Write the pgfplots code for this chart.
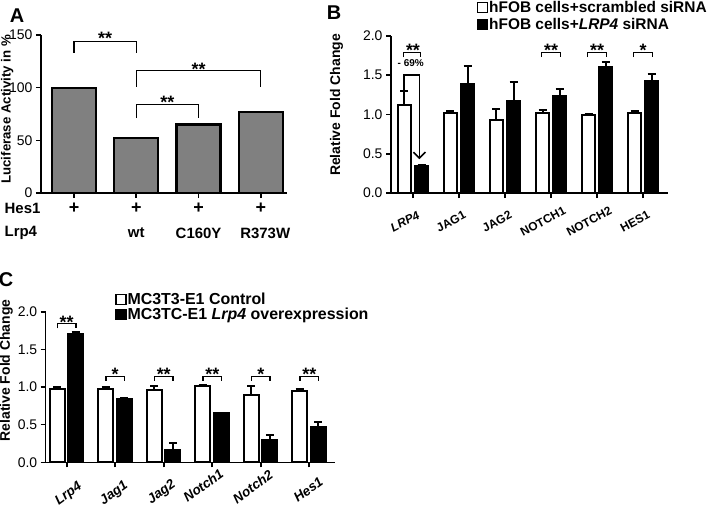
\documentclass[border=0pt]{standalone}
\usepackage{fontspec}
\setmainfont{Liberation Sans}
\usepackage{pgfplots}
\pgfplotsset{compat=1.18}
\usetikzlibrary{arrows.meta}
\newcommand\fs[1]{\fontsize{#1}{#1}\selectfont}
\definecolor{bargray}{RGB}{128,128,128}
\tikzset{
  blab/.style={font=\bfseries\fs{12}, xshift=-8bp, yshift=-28.5bp, rotate=28, anchor=center, inner sep=0pt},
  clab/.style={font=\bfseries\itshape\fs{13.5}, anchor=center, inner sep=0pt},
}
\pgfplotsset{
  prism/.style={
    scale only axis,
    axis x line*=bottom, axis y line*=left,
    axis line style={line width=1.6bp, -},
    every tick/.style={line width=1.6bp, black},
    major tick length=5bp,
    tick align=outside,
    clip=false,
    ymin=0,
    tick label style={font=\fs{14}},
    /pgf/number format/assume math mode=true,
  },
  errb/.style={error bars/.cd, y dir=plus, y explicit,
    error bar style={line width=2bp, black},
    error mark options={black, line width=2bp, mark size=4bp, rotate=90}},
  brk/.style={black, line width=1.3bp, forget plot, sharp plot},
  sq/.style={legend image code/.code={\draw[##1,/tikz/.cd,line width=1.5bp] (0bp,-5bp) rectangle (10bp,5bp);}},
}
\begin{document}
\begin{tikzpicture}
\useasboundingbox (0,0) rectangle (708bp,-506bp);
\node[font=\bfseries\fs{20}] at (17bp,-16bp) {A};
\node[font=\bfseries\fs{20}] at (334bp,-13bp) {B};
\node[font=\bfseries\fs{20}] at (6bp,-280bp) {C};

% ---------------- Panel A
\begin{axis}[prism,
  at={(41bp,-193bp)}, anchor=south west,
  width=246bp, height=158bp,
  xmin=-0.53, xmax=3.42, ymax=150,
  ytick={0,50,100,150},
  xtick={0,1,2,3}, xticklabels={,,,},
  ylabel={Luciferase Activity in \%},
  every axis y label/.style={at={(axis description cs:-0.137,0.53)}, rotate=90, anchor=center, inner sep=0pt, font=\bfseries\fs{13.3}},
]
\addplot[ybar, bar width=44bp, fill=bargray, draw=black, line width=2.2bp] coordinates {(0,100) (1,52) (2,65) (3,77)};
\addplot[brk] coordinates {(0,133) (0,144) (1,144) (1,133)};
\addplot[brk] coordinates {(1,101) (1,116) (3,116) (3,101)};
\addplot[brk] coordinates {(1,71) (1,84) (2,84) (2,71)};
\node[font=\bfseries\fs{18}, anchor=base] at (axis cs:0.5,141) {**};
\node[font=\bfseries\fs{18}, anchor=base] at (axis cs:2,112) {**};
\node[font=\bfseries\fs{18}, anchor=base] at (axis cs:1.5,80) {**};
\node[font=\bfseries\fs{18}] at (axis cs:0,-14.2) {+};
\node[font=\bfseries\fs{18}] at (axis cs:1,-14.2) {+};
\node[font=\bfseries\fs{18}] at (axis cs:2,-14.2) {+};
\node[font=\bfseries\fs{18}] at (axis cs:3,-14.2) {+};
\node[font=\bfseries\fs{15}, anchor=west] at (axis cs:-1.17,-14.2) {Hes1};
\node[font=\bfseries\fs{15}, anchor=west] at (axis cs:-1.17,-38) {Lrp4};
\node[font=\bfseries\fs{15}] at (axis cs:1,-38) {wt};
\node[font=\bfseries\fs{15}] at (axis cs:2,-38) {C160Y};
\node[font=\bfseries\fs{15}] at (axis cs:3.07,-38) {R373W};
\end{axis}

% ---------------- Panel B
\begin{axis}[prism, sq,
  at={(391bp,-193bp)}, anchor=south west,
  width=277bp, height=157bp,
  xmin=-0.478, xmax=5.543, ymax=2,
  ytick={0,0.5,1,1.5,2},
  yticklabel style={/pgf/number format/.cd, fixed, fixed zerofill, precision=1},
  xtick={0,1,2,3,4,5}, xticklabels={,,,,,},
  ylabel={Relative Fold Change},
  every axis y label/.style={at={(axis description cs:-0.197,0.56)}, rotate=90, anchor=center, font=\bfseries\fs{14}},
  legend style={at={(axis description cs:1.144,1.229)}, anchor=north east, draw=none, fill=none,
    font=\bfseries\fs{15.5}, inner sep=0pt, row sep=2bp,
    nodes={inner sep=1bp}, cells={anchor=west}},
]
\addplot[ybar, bar width=13bp, bar shift=0pt, fill=white, draw=black, line width=2bp, errb]
  coordinates {(-0.185,1.12) +- (0,0.18) (0.815,1.02) +- (0,0.02) (1.815,0.93) +- (0,0.14) (2.815,1.02) +- (0,0.04) (3.815,1.00) +- (0,0.01) (4.815,1.02) +- (0,0.03)};
\addplot[ybar, bar width=13bp, bar shift=0pt, fill=black, draw=black, line width=2bp, errb]
  coordinates {(0.185,0.35) +- (0,0.01) (1.185,1.39) +- (0,0.23) (2.185,1.17) +- (0,0.24) (3.185,1.24) +- (0,0.09) (4.185,1.61) +- (0,0.06) (5.185,1.43) +- (0,0.09)};
\legend{hFOB cells+scrambled siRNA, hFOB cells+\textit{LRP4} siRNA}
\addplot[brk] coordinates {(-0.2,1.73) (-0.2,1.79) (0.17,1.79) (0.17,1.73)};
\addplot[brk] coordinates {(2.8,1.73) (2.8,1.79) (3.2,1.79) (3.2,1.73)};
\addplot[brk] coordinates {(3.8,1.73) (3.8,1.79) (4.2,1.79) (4.2,1.73)};
\addplot[brk] coordinates {(4.8,1.73) (4.8,1.79) (5.2,1.79) (5.2,1.73)};
\addplot[black, line width=1.6bp, forget plot, sharp plot, -{Straight Barb[length=6bp,width=12bp]}]
  coordinates {(-0.2,1.30) (-0.2,1.50) (0.14,1.50) (0.14,0.43)};
\node[font=\bfseries\fs{18}, anchor=base] at (axis cs:0,1.74) {**};
\node[font=\bfseries\fs{18}, anchor=base] at (axis cs:3,1.74) {**};
\node[font=\bfseries\fs{18}, anchor=base] at (axis cs:4,1.74) {**};
\node[font=\bfseries\fs{18}, anchor=base] at (axis cs:5,1.74) {*};
\node[font=\bfseries\fs{10}] at (axis cs:-0.05,1.656) {- 69\%};
\node[blab] at (axis cs:0,0) {\textit{LRP4}};
\node[blab] at (axis cs:1,0) {JAG1};
\node[blab] at (axis cs:2,0) {JAG2};
\node[blab] at (axis cs:3,0) {NOTCH1};
\node[blab] at (axis cs:4,0) {NOTCH2};
\node[blab] at (axis cs:5,0) {HES1};
\end{axis}

% ---------------- Panel C
\begin{axis}[prism, sq,
  at={(45.7bp,-462.3bp)}, anchor=south west,
  width=289.3bp, height=150.6bp,
  xmin=-0.433, xmax=5.53, ymax=2,
  ytick={0,0.5,1,1.5,2},
  yticklabel style={/pgf/number format/.cd, fixed, fixed zerofill, precision=1},
  xtick={0,1,2,3,4,5}, xticklabels={,,,,,},
  ylabel={Relative Fold Change},
  every axis y label/.style={at={(axis description cs:-0.136,0.61)}, rotate=90, anchor=center, font=\bfseries\fs{14}},
  legend style={at={(axis description cs:0.239,1.131)}, anchor=north west, draw=none, fill=none,
    font=\bfseries\fs{16}, inner sep=0pt, row sep=0bp,
    nodes={inner sep=1bp}, cells={anchor=west}},
]
\addplot[ybar, bar width=15bp, bar shift=0pt, fill=white, draw=black, line width=2bp, errb]
  coordinates {(-0.2,0.98) +- (0,0.02) (0.8,0.98) +- (0,0.02) (1.8,0.96) +- (0,0.05) (2.8,1.02) +- (0,0.01) (3.8,0.89) +- (0,0.12) (4.8,0.95) +- (0,0.03)};
\addplot[ybar, bar width=15bp, bar shift=0pt, fill=black, draw=black, line width=2bp, errb]
  coordinates {(0.186,1.70) +- (0,0.03) (1.186,0.84) +- (0,0.02) (2.186,0.17) +- (0,0.08) (3.186,0.65) +- (0,0.01) (4.186,0.30) +- (0,0.06) (5.186,0.47) +- (0,0.06)};
\legend{MC3T3-E1 Control, MC3TC-E1 \textit{Lrp4} overexpression}
\addplot[brk] coordinates {(-0.19,1.78) (-0.19,1.84) (0.19,1.84) (0.19,1.78)};
\addplot[brk] coordinates {(0.81,1.08) (0.81,1.14) (1.19,1.14) (1.19,1.08)};
\addplot[brk] coordinates {(1.81,1.08) (1.81,1.14) (2.19,1.14) (2.19,1.08)};
\addplot[brk] coordinates {(2.81,1.08) (2.81,1.14) (3.19,1.14) (3.19,1.08)};
\addplot[brk] coordinates {(3.81,1.08) (3.81,1.14) (4.19,1.14) (4.19,1.08)};
\addplot[brk] coordinates {(4.81,1.08) (4.81,1.14) (5.19,1.14) (5.19,1.08)};
\node[font=\bfseries\fs{18}, anchor=base] at (axis cs:0,1.78) {**};
\node[font=\bfseries\fs{18}, anchor=base] at (axis cs:1,1.08) {*};
\node[font=\bfseries\fs{18}, anchor=base] at (axis cs:2,1.08) {**};
\node[font=\bfseries\fs{18}, anchor=base] at (axis cs:3,1.08) {**};
\node[font=\bfseries\fs{18}, anchor=base] at (axis cs:4,1.08) {*};
\node[font=\bfseries\fs{18}, anchor=base] at (axis cs:5,1.08) {**};
\node[clab, xshift=2bp, yshift=-31.7bp, rotate=36] at (axis cs:0,0) {Lrp4};
\node[clab, xshift=-1bp, yshift=-31.2bp, rotate=36] at (axis cs:1,0) {Jag1};
\node[clab, xshift=-2bp, yshift=-30.2bp, rotate=36] at (axis cs:2,0) {Jag2};
\node[clab, xshift=-9bp, yshift=-23bp, rotate=36] at (axis cs:3,0) {Notch1};
\node[clab, xshift=-8bp, yshift=-24.5bp, rotate=36] at (axis cs:4,0) {Notch2};
\node[clab, xshift=-1bp, yshift=-27.5bp, rotate=36] at (axis cs:5,0) {Hes1};
\end{axis}
\end{tikzpicture}
\end{document}
